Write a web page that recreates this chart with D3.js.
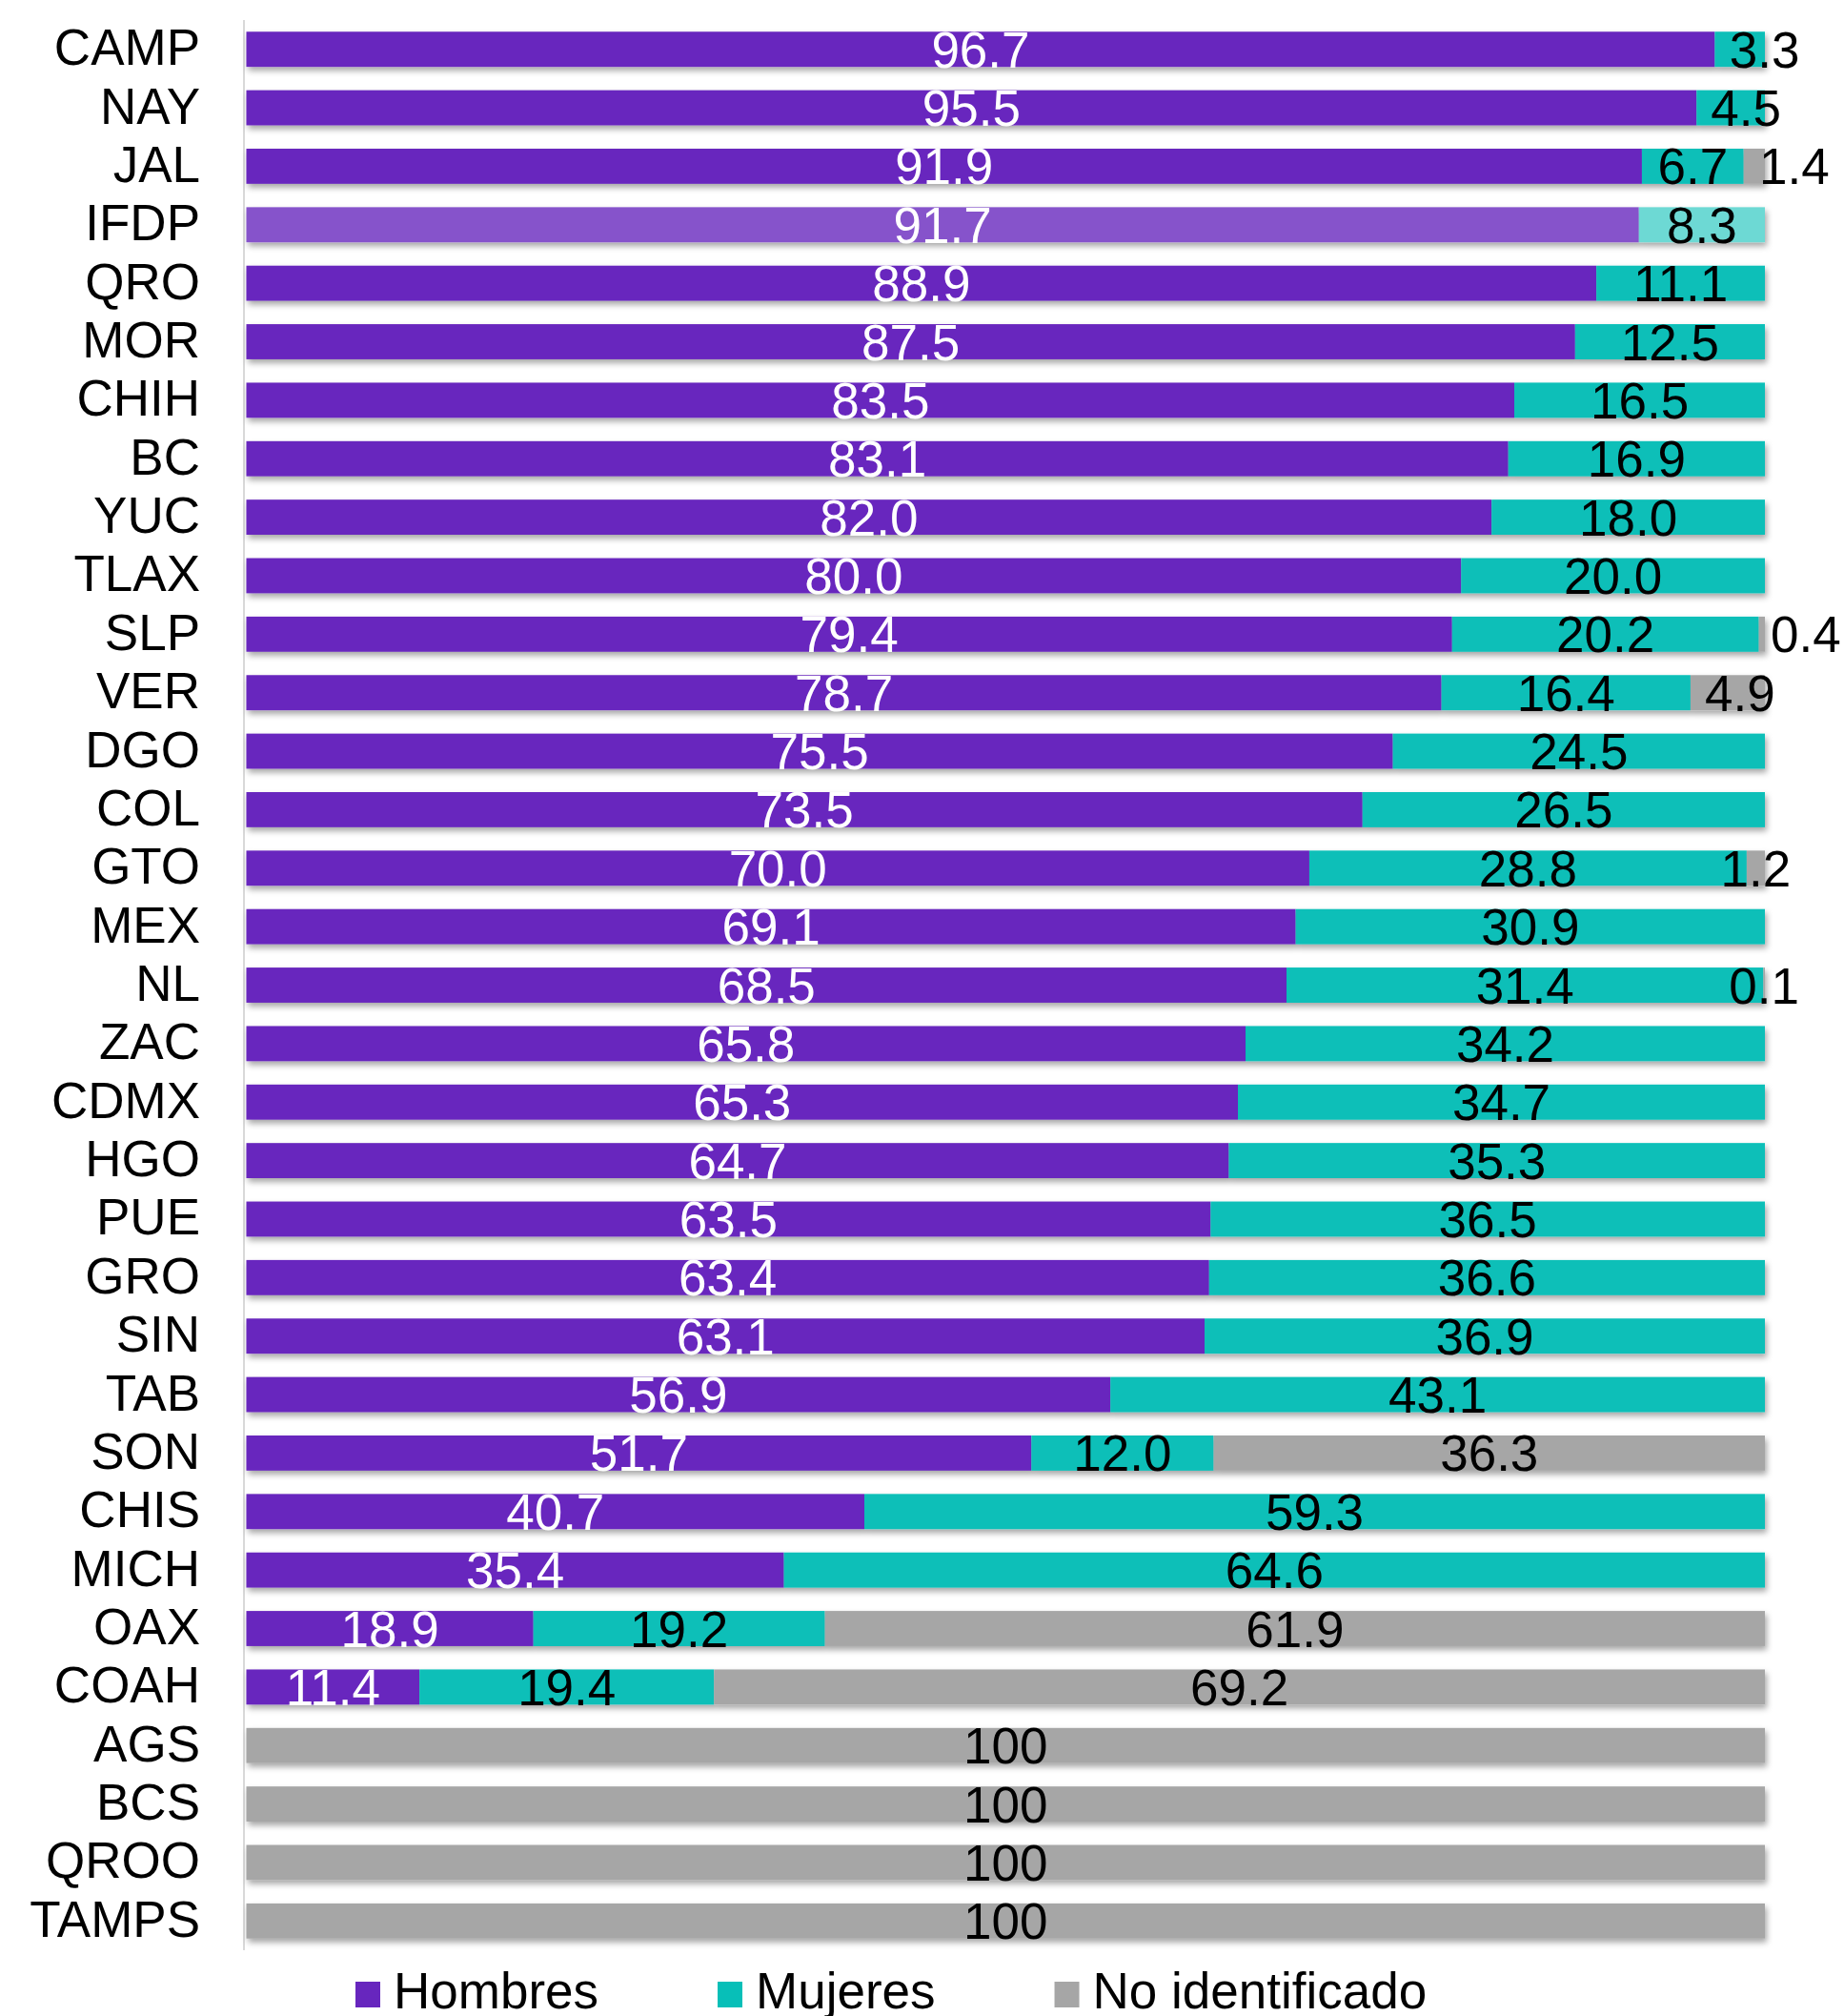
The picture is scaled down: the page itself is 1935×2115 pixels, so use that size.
<!doctype html>
<meta charset="utf-8">
<style>
body { margin: 0; background: #fff; }
text { font-family: "Liberation Sans", Arial, sans-serif; }
</style>
<script src="https://d3js.org/d3.v7.min.js"></script>
<body>
<svg id="chart"></svg>
<script>
// states, top to bottom
var estados = ["CAMP","NAY","JAL","IFDP","QRO","MOR","CHIH","BC","YUC","TLAX","SLP","VER","DGO","COL",
  "GTO","MEX","NL","ZAC","CDMX","HGO","PUE","GRO","SIN","TAB","SON","CHIS","MICH","OAX","COAH",
  "AGS","BCS","QROO","TAMPS"];
var hombres = [96.7,95.5,91.9,91.7,88.9,87.5,83.5,83.1,82.0,80.0,79.4,78.7,75.5,73.5,
  70.0,69.1,68.5,65.8,65.3,64.7,63.5,63.4,63.1,56.9,51.7,40.7,35.4,18.9,11.4,
  0,0,0,0];
var mujeres = [3.3,4.5,6.7,8.3,11.1,12.5,16.5,16.9,18.0,20.0,20.2,16.4,24.5,26.5,
  28.8,30.9,31.4,34.2,34.7,35.3,36.5,36.6,36.9,43.1,12.0,59.3,64.6,19.2,19.4,
  0,0,0,0];
var noIdentificado = [0,0,1.4,0,0,0,0,0,0,0,0.4,4.9,0,0,
  1.2,0,0.1,0,0,0,0,0,0,0,36.3,0,0,61.9,69.2,
  100,100,100,100];
var series = ["Hombres","Mujeres","No identificado"];
var destacado = "IFDP";

// layout / style
var width = 1935, height = 2115;
var colores = {"Hombres":"#6726be","Mujeres":"#07bfb8","No identificado":"#a6a6a6"};
var coloresClaros = {"Hombres":"#8652cb","Mujeres":"#6dd9d4","No identificado":"#c0c0c0"};
var colorTexto = {"Hombres":"#fff","Mujeres":"#000","No identificado":"#000"};
// hand-moved labels (px to the right), like in the original
var empujeEtiqueta = {"CAMP|Mujeres":26,"NAY|Mujeres":16,"JAL|No identificado":42,
  "SLP|No identificado":46,"VER|No identificado":13};
var fs = 53;

var svg = d3.select("#chart").attr("width", width).attr("height", height);

var defs = svg.append("defs");
var f = defs.append("filter").attr("id","sombra")
  .attr("x","-2%").attr("y","-30%").attr("width","104%").attr("height","180%");
f.append("feDropShadow").attr("dx",2).attr("dy",4).attr("stdDeviation",3)
  .attr("flood-color","#000").attr("flood-opacity",0.35);

var x = d3.scaleLinear().domain([0,100]).range([258.5,1852]);
var y = d3.scaleBand().domain(estados).range([21,2046]).paddingInner(0.4).paddingOuter(0.2);

var filas = estados.map(function(e,i){
  return {estado:e, valores:[hombres[i], mujeres[i], noIdentificado[i]]};
});

var stack = filas.map(function(d){
  var acc = 0;
  return d.valores.map(function(v,j){
    var s = {estado:d.estado, serie:series[j], v:v, x0:acc, x1:acc+v};
    acc += v;
    return s;
  });
});

// axis line
svg.append("line")
  .attr("x1",256).attr("x2",256).attr("y1",21).attr("y2",2046)
  .attr("stroke","#d9d9d9").attr("stroke-width",2);

// bars
var g = svg.append("g");
var filaG = g.selectAll("g.fila").data(stack).enter().append("g")
  .attr("class","fila").attr("filter","url(#sombra)");
filaG.selectAll("rect").data(function(d){ return d.filter(function(s){ return s.v>0; }); })
  .enter().append("rect")
    .attr("x", function(s){ return x(s.x0); })
    .attr("width", function(s){ return x(s.x1)-x(s.x0); })
    .attr("y", function(s){ return y(s.estado); })
    .attr("height", y.bandwidth())
    .attr("fill", function(s){ return s.estado===destacado ? coloresClaros[s.serie] : colores[s.serie]; });

// value labels
var etiquetas = svg.append("g");
stack.forEach(function(fila){
  fila.forEach(function(s){
    if (s.v <= 0) return;
    var dx = empujeEtiqueta[s.estado+"|"+s.serie] || 0;
    etiquetas.append("text")
      .attr("x", (x(s.x0)+x(s.x1))/2 + dx)
      .attr("y", y(s.estado) + y.bandwidth()/2 + 0.36*fs)
      .attr("text-anchor","middle")
      .attr("font-size", fs)
      .attr("fill", colorTexto[s.serie])
      .text(s.v===100 ? "100" : s.v.toFixed(1));
  });
});

// category labels
svg.append("g").selectAll("text").data(estados).enter().append("text")
  .attr("x",210)
  .attr("y", function(d){ return y(d) + y.bandwidth()/2 + 16.5; })
  .attr("text-anchor","end")
  .attr("font-size", fs)
  .attr("fill","#000")
  .text(function(d){ return d; });

// legend
var leg = svg.append("g");
var lx = 373;
series.forEach(function(s){
  leg.append("rect").attr("x",lx).attr("y",2079).attr("width",26).attr("height",27)
    .attr("fill",colores[s]);
  var t = leg.append("text").attr("x",lx+40).attr("y",2107)
    .attr("font-size",fs).attr("fill","#000").text(s);
  lx += 40 + t.node().getComputedTextLength() + 125;
});
</script>
</body>
